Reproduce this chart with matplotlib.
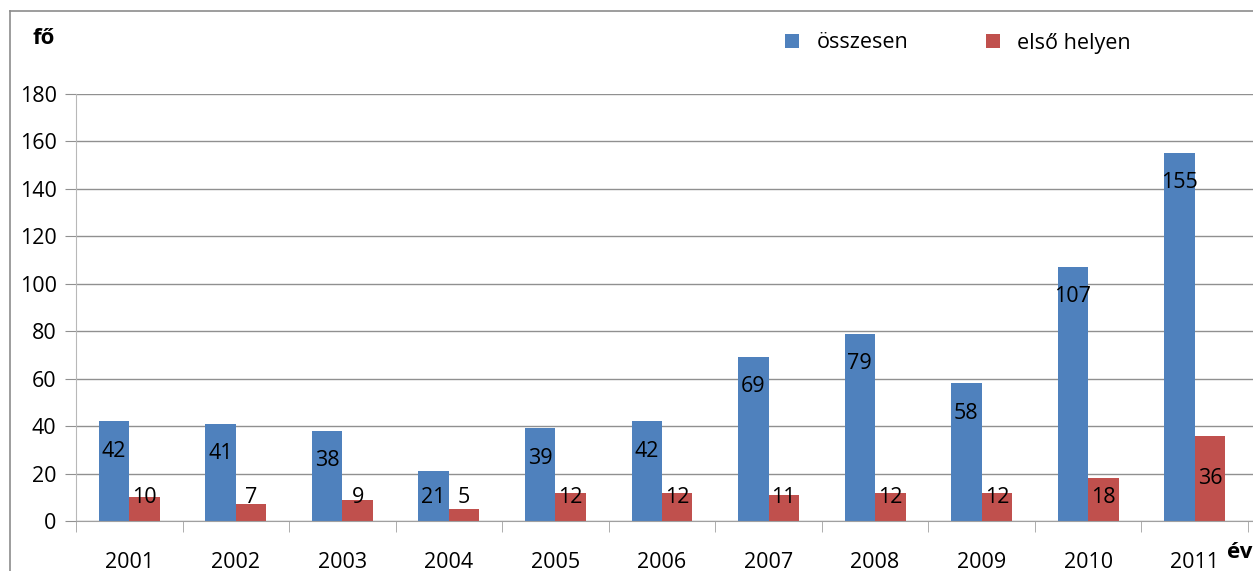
import numpy as np
import matplotlib.pyplot as plt
from matplotlib.lines import Line2D

years = ['2001', '2002', '2003', '2004', '2005', '2006', '2007', '2008', '2009', '2010', '2011']
osszesen = [42, 41, 38, 21, 39, 42, 69, 79, 58, 107, 155]
elso_helyen = [10, 7, 9, 5, 12, 12, 11, 12, 12, 18, 36]

plt.rcParams['font.family'] = ['Open Sans', 'DejaVu Sans']
W, H = 1253, 571
fig = plt.figure(figsize=(W / 100, H / 100), dpi=100)
ax = fig.add_axes([76 / W, 1 - 521 / H, (W - 76) / W, (521 - 94) / H])

x = np.arange(len(years))
bw = 0.286
blue = '#4F81BD'
red = '#C0504D'
fs = 15.5
ax.bar(x - bw / 2, osszesen, bw, color=blue, label='összesen', zorder=2)
ax.bar(x + bw / 2, elso_helyen, bw, color=red, label='első helyen', zorder=2)

# data labels
for xi, v in zip(x, osszesen):
    ax.text(xi - bw / 2, max(v - 12.5, 10), str(v), ha='center', va='center', fontsize=fs, zorder=3)
for xi, v in zip(x, elso_helyen):
    ax.text(xi + bw / 2, max(v / 2, 10), str(v), ha='center', va='center', fontsize=fs, zorder=3)

ax.set_ylim(0, 180)
ax.set_yticks(range(0, 181, 20))
ax.set_xlim(-0.5, 10.547)
ax.set_xticks(x)
ax.set_xticklabels(years)
ax.set_xticks(np.arange(-0.5, 11, 1), minor=True)
ax.tick_params(axis='x', which='major', length=0, pad=22, labelsize=fs)
ax.tick_params(axis='x', which='minor', length=8, color='#a0a0a0', direction='out')
ax.tick_params(axis='y', length=8, color='#909090', labelsize=fs, pad=6)
ax.yaxis.grid(True, color='#909090', linewidth=1, zorder=0)
for s in ['top', 'right']:
    ax.spines[s].set_visible(False)
ax.spines['left'].set_color('#b8b8b8')
ax.spines['bottom'].set_color('#a0a0a0')

fig.text(44 / W, 1 - 38 / H, 'fő', fontsize=16, fontweight='bold', ha='center', va='center')
fig.text(1227 / W, 1 - 552 / H, 'év', fontsize=16, fontweight='bold', ha='left', va='center')

ax.legend(loc='center', bbox_to_anchor=(958 / W, 1 - 43 / H), bbox_transform=fig.transFigure,
          ncol=2, frameon=False, fontsize=fs, handlelength=0.65, handleheight=0.65,
          columnspacing=3.6, handletextpad=0.8)

# outer chart border
fig.add_artist(Line2D([10 / W, 1], [1 - 11 / H, 1 - 11 / H], color='#8c8c8c', lw=1.2))
fig.add_artist(Line2D([10 / W, 10 / W], [0, 1 - 11 / H], color='#8c8c8c', lw=1.2))

fig.savefig('out.png', dpi=100)
